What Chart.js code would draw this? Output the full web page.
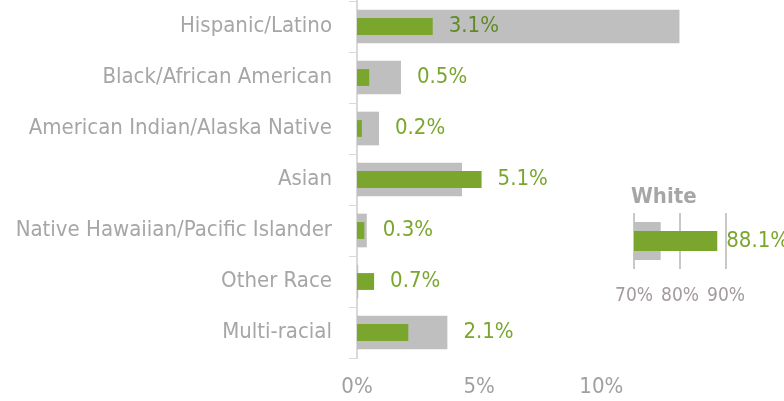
<!DOCTYPE html>
<html>
<head>
<meta charset="utf-8">
<script src="https://cdn.jsdelivr.net/npm/chart.js@4/dist/chart.umd.min.js"></script>
<style>
  body { margin: 0; background: #fff; }
  #wrap { position: relative; width: 784px; height: 401px; }
  #main { position: absolute; left: 0; top: 0; }
  #inset { position: absolute; left: 590px; top: 170px; }
</style>
</head>
<body>
<div id="wrap">
  <canvas id="main" width="784" height="401"></canvas>
  <canvas id="inset" width="194" height="150"></canvas>
</div>
<script>
// data (percent)
const categories = ['Hispanic/Latino', 'Black/African American', 'American Indian/Alaska Native',
  'Asian', 'Native Hawaiian/Pacific Islander', 'Other Race', 'Multi-racial'];
const greenValues = [3.1, 0.5, 0.2, 5.1, 0.3, 0.7, 2.1];
const greyValues = [13.2, 1.8, 0.9, 4.3, 0.4, 0.05, 3.7];
const mainTicks = [0, 5, 10];

const insetCategory = ['White'];
const insetGreen = [88.1];
const insetGrey = [75.8];
const insetTicks = [70, 80, 90];

const FONT = "'Liberation Sans Narrow', 'DejaVu Sans Condensed', sans-serif";
const GREEN = '#7aa62e';
const DARK_GREEN = '#5f8a26';
const GREY = '#bfbfbf';
const LABEL_GREY = '#a6a6a6';

// value labels next to the green bars
const mainLabels = {
    id: 'mainLabels',
    afterDatasetsDraw(chart) {
        const ctx = chart.ctx;
        const x = chart.scales.x;
        const meta = chart.getDatasetMeta(0);
        ctx.save();
        ctx.font = '22px ' + FONT;
        ctx.textBaseline = 'middle';
        ctx.textAlign = 'left';
        greenValues.forEach((v, i) => {
            const gEnd = x.getPixelForValue(v);
            const grEnd = x.getPixelForValue(greyValues[i]);
            let px;
            if (grEnd - gEnd > 150) {
                px = gEnd + 16;
                ctx.fillStyle = DARK_GREEN;
            } else {
                px = Math.max(gEnd, grEnd) + 16;
                ctx.fillStyle = GREEN;
            }
            ctx.fillText(v.toFixed(1) + '%', px, meta.data[i].y);
        });
        ctx.restore();
    }
};

new Chart(document.getElementById('main'), {
    type: 'bar',
    data: {
        labels: categories,
        datasets: [{
            data: greenValues,
            backgroundColor: GREEN,
            grouped: false,
            barPercentage: 0.33,
            categoryPercentage: 1
        }, {
            data: greyValues,
            backgroundColor: GREY,
            grouped: false,
            barPercentage: 0.66,
            categoryPercentage: 1
        }]
    },
    options: {
        responsive: false,
        animation: false,
        indexAxis: 'y',
        layout: { padding: { left: 0, right: 85, top: 1, bottom: 0 } },
        plugins: { legend: { display: false }, tooltip: { enabled: false } },
        scales: {
            x: {
                min: 0,
                max: 14,
                grid: { display: false, drawTicks: false },
                border: { display: false },
                afterBuildTicks: s => { s.ticks = mainTicks.map(v => ({ value: v })); },
                afterFit: s => { s.height = 43; },
                ticks: {
                    callback: v => v + '%',
                    font: { size: 22, family: FONT },
                    color: '#a0a0a0',
                    padding: 16
                }
            },
            y: {
                grid: { drawOnChartArea: false, color: '#d9d9d9', tickLength: 8, offset: true },
                border: { color: '#d9d9d9', width: 2 },
                afterFit: s => { s.width = 357; s.paddingTop = 0; s.paddingBottom = 0; },
                ticks: {
                    font: { size: 22, family: FONT },
                    color: LABEL_GREY,
                    padding: 17
                }
            }
        }
    },
    plugins: [mainLabels]
});

// small White panel
const insetText = {
    id: 'insetText',
    afterDatasetsDraw(chart) {
        const ctx = chart.ctx;
        const area = chart.chartArea;
        const x = chart.scales.x;
        const bar = chart.getDatasetMeta(0).data[0];
        ctx.save();
        ctx.textAlign = 'left';
        ctx.font = 'bold 22px ' + FONT;
        ctx.fillStyle = LABEL_GREY;
        ctx.textBaseline = 'alphabetic';
        ctx.fillText(insetCategory[0], area.left - 3, area.top - 10);
        ctx.font = '22px ' + FONT;
        ctx.fillStyle = GREEN;
        ctx.textBaseline = 'middle';
        ctx.fillText(insetGreen[0].toFixed(1) + '%', x.getPixelForValue(insetGreen[0]) + 9, bar.y);
        ctx.restore();
    }
};

new Chart(document.getElementById('inset'), {
    type: 'bar',
    data: {
        labels: insetCategory,
        datasets: [{
            data: insetGreen,
            backgroundColor: GREEN,
            grouped: false,
            barPercentage: 0.36,
            categoryPercentage: 1
        }, {
            data: insetGrey,
            backgroundColor: GREY,
            grouped: false,
            barPercentage: 0.68,
            categoryPercentage: 1
        }]
    },
    options: {
        responsive: false,
        animation: false,
        indexAxis: 'y',
        layout: { padding: { left: 44, right: 58, top: 43, bottom: 0 } },
        plugins: { legend: { display: false }, tooltip: { enabled: false } },
        scales: {
            x: {
                min: 70,
                max: 90,
                grid: { color: '#c8c8c8', lineWidth: 2, drawTicks: false },
                border: { display: false },
                afterBuildTicks: s => { s.ticks = insetTicks.map(v => ({ value: v })); },
                afterFit: s => { s.height = 51; },
                ticks: {
                    callback: v => v + '%',
                    font: { size: 19, family: FONT },
                    color: '#a39c9c',
                    padding: 16
                }
            },
            y: { display: false }
        }
    },
    plugins: [insetText]
});
</script>
</body>
</html>
